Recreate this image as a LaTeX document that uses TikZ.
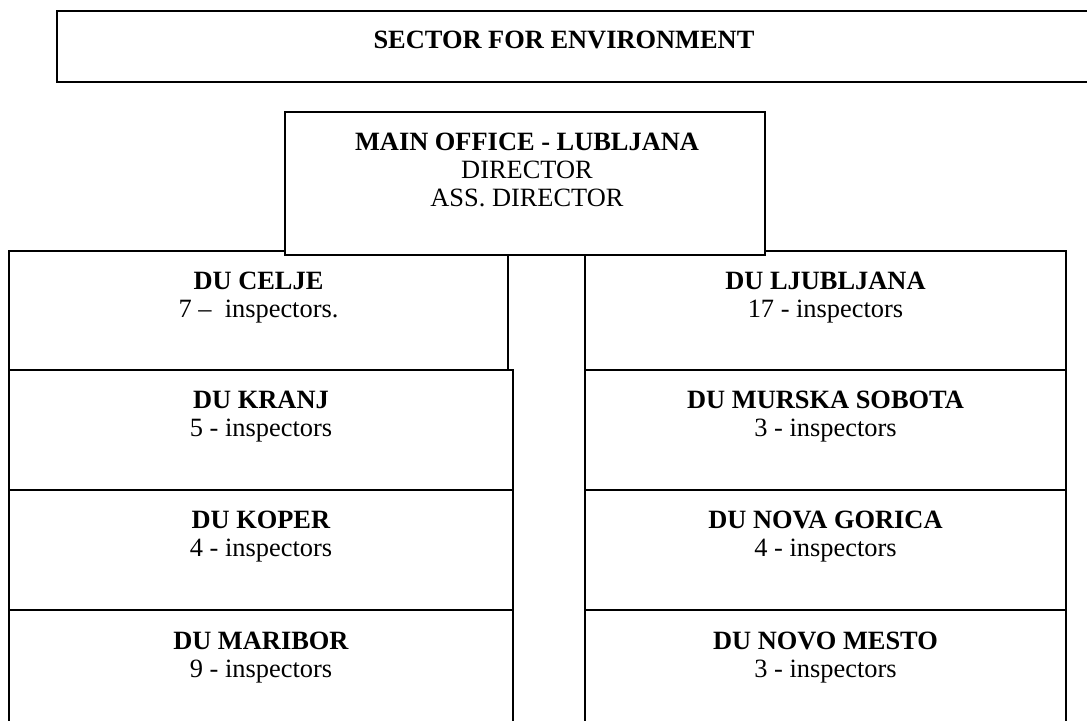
\documentclass[tikz,border=0pt]{standalone}
\usepackage{fontspec}
\setmainfont{Liberation Serif}
\usetikzlibrary{fit}
\begin{document}
\begin{tikzpicture}[x=0.5pt,y=-0.5pt,
  frame/.style={draw=black, line width=1.1pt, inner sep=0pt, fill=white},
  lbl/.style={anchor=north, inner sep=0pt, align=center,
              font=\fontsize{13.2}{14}\selectfont}]
\clip (0,0) rectangle (1087,720);
\fill[white] (0,0) rectangle (1087,720);

% sector banner (runs off the right edge)
\node[frame, fit={(57,11) (1120,82)}] (sector) {};
\node[lbl] (sectortxt) at (564,31) {\textbf{SECTOR FOR ENVIRONMENT}};

% left column of district units
\node[frame, fit={(9,251) (508,370)}] (celje) {};
\node[frame, fit={(9,370) (513,490)}] (kranj) {};
\node[frame, fit={(9,490) (513,610)}] (koper) {};
\node[frame, fit={(9,610) (513,740)}] (maribor) {};

% right column of district units
\node[frame, fit={(585,251) (1066,370)}] (ljubljana) {};
\node[frame, fit={(585,370) (1066,490)}] (murska) {};
\node[frame, fit={(585,490) (1066,610)}] (gorica) {};
\node[frame, fit={(585,610) (1066,740)}] (mesto) {};

% main office sits on top of the first row
\node[frame, fit={(285,112) (765,255)}] (main) {};

\tikzset{below top/.style={yshift=-11pt}}
\node[lbl] (maintxt) at ([xshift=1pt,below top]main.north)
  {\textbf{MAIN OFFICE - LUBLJANA}\\DIRECTOR\\ASS. DIRECTOR};

\node[lbl] (celjetxt) at ([below top]celje.north)
  {\textbf{DU CELJE}\\7 –~~inspectors.};
\node[lbl] (kranjtxt) at ([below top]kranj.north)
  {\textbf{DU KRANJ}\\5 - inspectors};
\node[lbl] (kopertxt) at ([below top]koper.north)
  {\textbf{DU KOPER}\\4 - inspectors};
\node[lbl] (mariobrtxt) at ([below top]koper.north |- 0,610)
  {\textbf{DU MARIBOR}\\9 - inspectors};

\node[lbl] (ljubljanatxt) at ([below top]ljubljana.north)
  {\textbf{DU LJUBLJANA}\\17 - inspectors};
\node[lbl] (murskatxt) at ([below top]murska.north)
  {\textbf{DU MURSKA SOBOTA}\\3 - inspectors};
\node[lbl] (goricatxt) at ([below top]gorica.north)
  {\textbf{DU NOVA GORICA}\\4 - inspectors};
\node[lbl] (mestotxt) at ([below top]gorica.north |- 0,610)
  {\textbf{DU NOVO MESTO}\\3 - inspectors};
\end{tikzpicture}
\end{document}
